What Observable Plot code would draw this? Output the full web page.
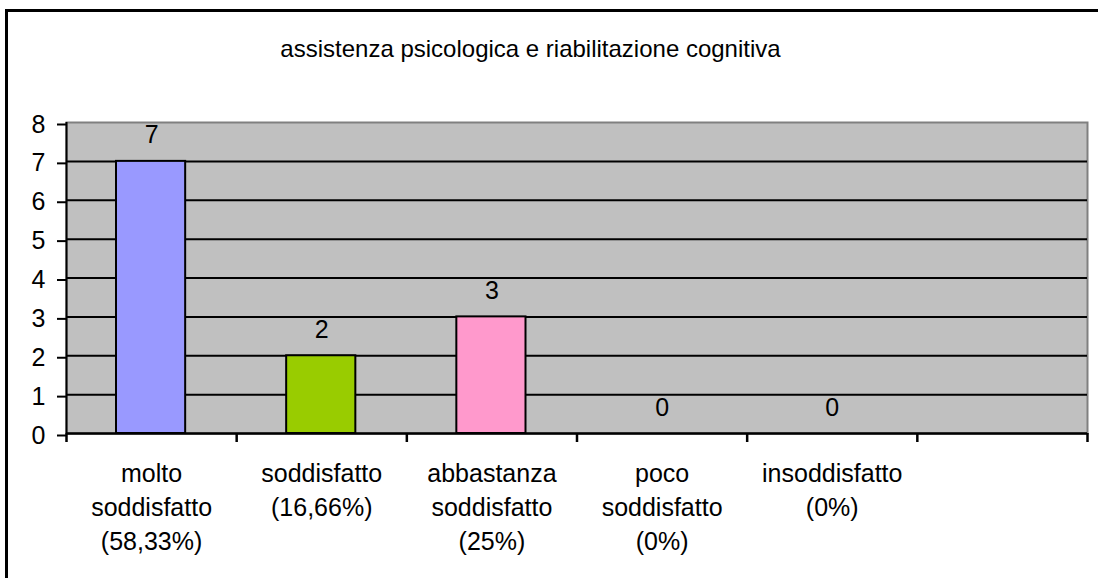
<!DOCTYPE html>
<html>
<head>
<meta charset="utf-8">
<script src="https://cdn.jsdelivr.net/npm/d3@7"></script>
<script src="https://cdn.jsdelivr.net/npm/@observablehq/plot@0.6"></script>
<style>
  html, body { margin: 0; padding: 0; background: #fff; overflow: hidden; width: 1098px; height: 578px; }
  #border { position: absolute; left: 5px; top: 9px; width: 1200px; height: 700px; border-left: 3px solid #000; border-top: 3px solid #000; box-sizing: border-box; }
  #title { position: absolute; left: 0; top: 37px; width: 1061px; text-align: center;
           font-family: "Liberation Sans", Arial, sans-serif; font-size: 24px; line-height: 24px; color: #000; }
  #chart { position: absolute; left: 0; top: 80px; }
</style>
</head>
<body>
<div id="border"></div>
<div id="title"></div>
<div id="chart"></div>
<script>
const chartTitle = "assistenza psicologica e riabilitazione cognitiva";
const categories = ["molto\nsoddisfatto", "soddisfatto", "abbastanza\nsoddisfatto", "poco\nsoddisfatto", "insoddisfatto"];
const percentages = ["(58,33%)", "(16,66%)", "(25%)", "(0%)", "(0%)"];
const values = [7, 2, 3, 0, 0];
const colors = ["#9999FF", "#99CC00", "#FF99CC", "#9999FF", "#9999FF"];
const slotCount = 6;
const yTicks = [0, 1, 2, 3, 4, 5, 6, 7, 8];

document.getElementById("title").textContent = chartTitle;

const table = categories.map((c, i) => ({
  slot: i,
  label: c + "\n" + percentages[i],
  value: values[i],
  color: colors[i]
}));
const slots = d3.range(0, slotCount + 1);
const font = "'Liberation Sans', Arial, sans-serif";

const chart = Plot.plot({
  width: 1098,
  height: 498,
  marginLeft: 66,
  marginRight: 11,
  marginTop: 42,
  marginBottom: 145,
  style: { fontFamily: font, fontSize: "25px", color: "#000", background: "transparent" },
  x: { type: "linear", domain: [0, slotCount], axis: null },
  y: { domain: [0, 8], axis: null },
  marks: [
    Plot.frame({ fill: "#C0C0C0", stroke: "#808080", strokeWidth: 2 }),
    Plot.ruleY(yTicks.filter(d => d > 0 && d < 8), { stroke: "#000", strokeWidth: 2 }),
    Plot.rectY(table, {
      x1: d => d.slot, x2: d => d.slot + 1, y: "value",
      fill: d => d.color, stroke: "#000", strokeWidth: 2,
      insetLeft: 50, insetRight: 51
    }),
    Plot.ruleX([0], { stroke: "#000", strokeWidth: 2 }),
    Plot.ruleY([0], { stroke: "#000", strokeWidth: 2.5 }),
    Plot.axisY({
      ticks: yTicks, tickSize: 9, tickPadding: 12, tickFormat: d => String(d),
      label: null, stroke: "#000", strokeWidth: 2, fill: "#000", fontSize: 25, dy: 2
    }),
    Plot.axisX({
      ticks: slots, tickSize: 9, tickFormat: () => "", label: null,
      stroke: "#000", strokeWidth: 2.5
    }),
    Plot.text(table, {
      x: d => d.slot + 0.5, y: "value", text: d => String(d.value),
      lineAnchor: "bottom", dy: -18, fontSize: 25, fill: "#000"
    }),
    Plot.text(table, {
      x: d => d.slot + 0.5, y: 0, text: "label",
      lineAnchor: "top", dy: 24, lineHeight: 1.36, fontSize: 25, fill: "#000"
    })
  ]
});
document.getElementById("chart").appendChild(chart);
</script>
</body>
</html>
